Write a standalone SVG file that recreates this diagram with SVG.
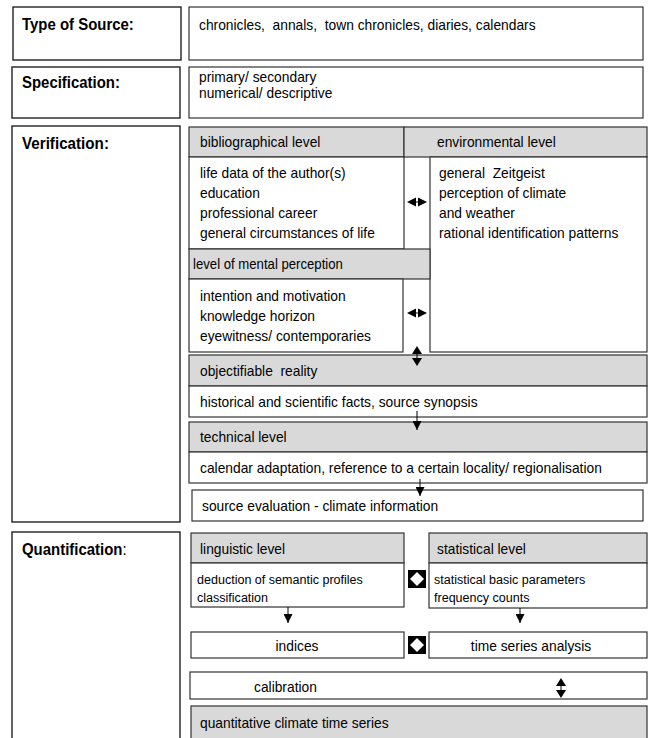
<svg xmlns="http://www.w3.org/2000/svg" xmlns:xlink="http://www.w3.org/1999/xlink" width="649" height="738" viewBox="0 0 649 738">
<style>
  .box{fill:#fff;stroke:#333;stroke-width:1.2}
  .gbox{fill:#d9d9d9;stroke:#333;stroke-width:1.2}
  .lbox{fill:#fff;stroke:#222;stroke-width:1.4}
  text{font-family:"Liberation Sans",Arial,sans-serif;fill:#000;white-space:pre}
  .lbl{font-size:16px;font-weight:bold}
  .t{font-size:15px}
  .s{font-size:14px}
  .xs{font-size:13.5px}
  .mid{text-anchor:middle}
  .ln{stroke:#000;stroke-width:1;fill:none}
</style>
<defs>
  <marker id="ah" markerWidth="10" markerHeight="9" refX="9" refY="4.5" orient="auto" markerUnits="userSpaceOnUse">
    <path d="M0,0 L9,4.5 L0,9 Z" fill="#000"/>
  </marker>
  <g id="harr"><path d="M-10,0 L-1,-4.5 L-1,4.5 Z M10,0 L1,-4.5 L1,4.5 Z" fill="#000"/><line x1="-1" y1="0" x2="1" y2="0" stroke="#000"/></g>
  <g id="varr"><path d="M0,-10 L-5,-2 L5,-2 Z M0,10 L-5,2 L5,2 Z" fill="#000"/><line x1="0" y1="-2" x2="0" y2="2" stroke="#000"/></g>
  <g id="dia"><rect x="-9" y="-9" width="18" height="18" fill="#000"/><path d="M0,-7 L7,0 L0,7 L-7,0 Z" fill="#fff"/></g>
</defs>
<rect width="649" height="738" fill="#fff"/>

<g id="n-type-label"><rect class="lbox" x="13" y="7" width="168" height="53"/><text class="lbl" transform="translate(22,30) scale(0.935,1)">Type of Source:</text></g>
<g id="n-type"><rect class="box" x="189" y="7" width="454" height="53"/><text class="t" xml:space="preserve" transform="translate(199,30) scale(0.92,1)">chronicles,  annals,  town chronicles, diaries, calendars</text></g>

<g id="n-spec-label"><rect class="lbox" x="12" y="67" width="168" height="51"/><text class="lbl" transform="translate(22,88) scale(0.935,1)">Specification:</text></g>
<g id="n-spec"><rect class="box" x="189" y="67" width="454" height="51"/>
  <text class="t" transform="translate(199,82) scale(0.92,1)">primary/ secondary</text>
  <text class="t" transform="translate(199,98) scale(0.92,1)">numerical/ descriptive</text></g>

<g id="n-verif-label"><rect class="lbox" x="12" y="126" width="168" height="396"/><text class="lbl" transform="translate(22,149) scale(0.95,1)">Verification:</text></g>

<g id="n-biblio-head"><rect class="gbox" x="189" y="127" width="215" height="30"/><text class="t" transform="translate(200,147) scale(0.92,1)">bibliographical level</text></g>
<g id="n-env-head"><rect class="gbox" x="404" y="127" width="243" height="30"/><text class="t" transform="translate(437,147) scale(0.92,1)">environmental level</text></g>
<g id="n-biblio"><rect class="box" x="189" y="157" width="215" height="92"/>
  <text class="t" transform="translate(200,178) scale(0.92,1)">life data of the author(s)</text>
  <text class="t" transform="translate(200,198) scale(0.92,1)">education</text>
  <text class="t" transform="translate(200,218) scale(0.92,1)">professional career</text>
  <text class="t" transform="translate(200,238) scale(0.92,1)">general circumstances of life</text></g>
<g id="n-env"><rect class="box" x="430" y="157" width="217" height="195"/>
  <text class="t" xml:space="preserve" transform="translate(439,178) scale(0.92,1)">general  Zeitgeist</text>
  <text class="t" transform="translate(439,198) scale(0.92,1)">perception of climate</text>
  <text class="t" transform="translate(439,218) scale(0.92,1)">and weather</text>
  <text class="t" transform="translate(439,238) scale(0.92,1)">rational identification patterns</text></g>
<g id="n-mental-head"><rect class="gbox" x="189" y="249" width="241" height="30"/><text class="s" transform="translate(193,269) scale(0.94,1)">level of mental perception</text></g>
<g id="n-mental"><rect class="box" x="189" y="279" width="214" height="73"/>
  <text class="t" transform="translate(200,301) scale(0.92,1)">intention and motivation</text>
  <text class="t" transform="translate(200,321) scale(0.92,1)">knowledge horizon</text>
  <text class="t" transform="translate(200,341) scale(0.92,1)">eyewitness/ contemporaries</text></g>

<g id="n-objective-head"><rect class="gbox" x="189" y="355" width="458" height="31"/><text class="t" xml:space="preserve" transform="translate(200,376) scale(0.92,1)">objectifiable  reality</text></g>
<g id="n-objective"><rect class="box" x="189" y="386" width="458" height="31"/><text class="t" transform="translate(200,407) scale(0.92,1)">historical and scientific facts, source synopsis</text></g>
<g id="n-tech-head"><rect class="gbox" x="189" y="422" width="458" height="30"/><text class="t" transform="translate(200,442) scale(0.92,1)">technical level</text></g>
<g id="n-tech"><rect class="box" x="189" y="452" width="458" height="31"/><text class="t" transform="translate(200,473) scale(0.92,1)">calendar adaptation, reference to a certain locality/ regionalisation</text></g>
<g id="n-eval"><rect class="box" x="192" y="490" width="451" height="31"/><text class="t" transform="translate(202,511) scale(0.92,1)">source evaluation - climate information</text></g>

<g id="n-quant-label"><rect class="lbox" x="12" y="532" width="168" height="215"/><text class="lbl" transform="translate(22,555) scale(0.935,1)">Quantification<tspan font-weight="normal">:</tspan></text></g>
<g id="n-ling-head"><rect class="gbox" x="191" y="533" width="213" height="30"/><text class="t" transform="translate(200,554) scale(0.92,1)">linguistic level</text></g>
<g id="n-ling"><rect class="box" x="191" y="563" width="213" height="44"/>
  <text class="xs" transform="translate(197,584) scale(0.93,1)">deduction of semantic profiles</text>
  <text class="xs" transform="translate(197,602) scale(0.93,1)">classification</text></g>
<g id="n-stat-head"><rect class="gbox" x="429" y="533" width="218" height="30"/><text class="t" transform="translate(437,554) scale(0.92,1)">statistical level</text></g>
<g id="n-stat"><rect class="box" x="429" y="563" width="218" height="45"/>
  <text class="xs" transform="translate(434,584) scale(0.93,1)">statistical basic parameters</text>
  <text class="xs" transform="translate(434,602) scale(0.93,1)">frequency counts</text></g>
<g id="n-indices"><rect class="box" x="191" y="632" width="213" height="26"/><text class="t mid" transform="translate(297,651) scale(0.92,1)">indices</text></g>
<g id="n-tsa"><rect class="box" x="429" y="632" width="218" height="26"/><text class="t mid" transform="translate(531,651) scale(0.92,1)">time series analysis</text></g>
<g id="n-calib"><rect class="box" x="190" y="672" width="457" height="27"/><text class="t" transform="translate(254,692) scale(0.92,1)">calibration</text></g>
<g id="n-qcts"><rect class="gbox" x="191" y="706" width="456" height="40"/><text class="t" transform="translate(200,728) scale(0.92,1)">quantitative climate time series</text></g>

<g id="connectors">
  <use xlink:href="#harr" href="#harr" x="417" y="202"/>
  <use xlink:href="#harr" href="#harr" x="417" y="313"/>
  <use xlink:href="#varr" href="#varr" x="417" y="356"/>
  <line class="ln" x1="417" y1="411" x2="417" y2="430" marker-end="url(#ah)"/>
  <line class="ln" x1="420" y1="479" x2="420" y2="496" marker-end="url(#ah)"/>
  <line class="ln" x1="288" y1="607" x2="288" y2="623" marker-end="url(#ah)"/>
  <line class="ln" x1="520" y1="608" x2="520" y2="623" marker-end="url(#ah)"/>
  <use xlink:href="#dia" href="#dia" x="417" y="579"/>
  <use xlink:href="#dia" href="#dia" x="417" y="645"/>
  <use xlink:href="#varr" href="#varr" x="561" y="688"/>
</g>
</svg>
